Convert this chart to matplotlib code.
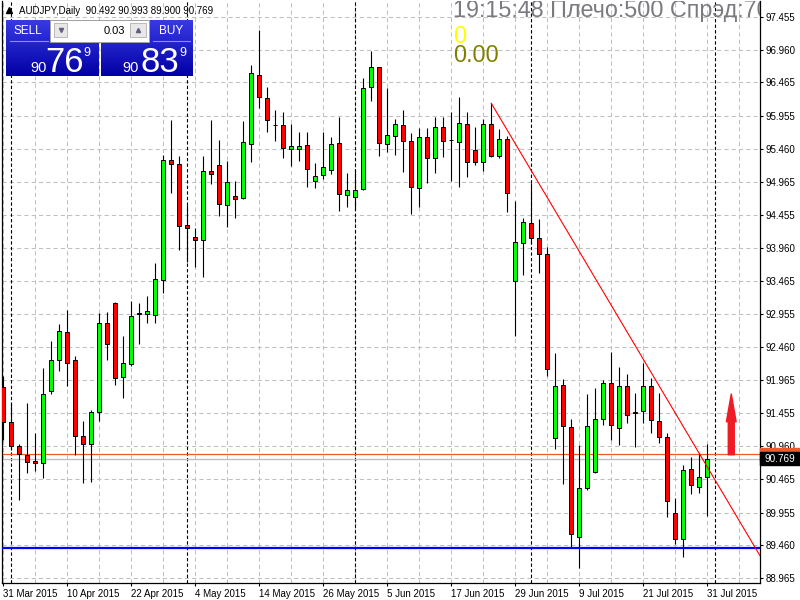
import matplotlib
matplotlib.use('Agg')
import matplotlib.pyplot as plt
import numpy as np
from matplotlib.patches import Rectangle
import matplotlib.transforms as mtransforms

plt.rcParams['font.family'] = ['Liberation Sans', 'DejaVu Sans']

# данные свечей AUDJPY D1 (31 Mar 2015 .. 31 Jul 2015)
opens = [91.855, 91.326, 90.958, 90.822, 90.731, 90.701, 91.790, 92.260, 92.683, 92.260,
         91.119, 90.988, 91.482, 92.824, 93.122, 92.002, 92.204, 92.975, 92.956, 92.941,
         93.475, 95.291, 95.226, 94.303, 94.121, 94.076, 95.120, 95.210, 94.605, 94.746,
         94.711, 95.533, 96.577, 96.224, 95.827, 95.816, 95.453, 95.453, 95.513, 94.973,
         95.059, 95.135, 95.544, 94.757, 94.726, 94.847, 96.391, 96.694, 95.528, 95.649,
         95.816, 95.574, 94.862, 95.643, 95.316, 95.786, 95.600, 95.559, 95.831, 95.438,
         95.265, 95.831, 95.356, 95.604, 93.455, 94.030, 94.333, 94.106, 93.864, 91.079,
         91.881, 91.246, 89.581, 90.323, 90.565, 91.367, 91.912, 91.231, 91.866, 91.478,
         91.488, 91.866, 91.337, 91.095, 89.944, 89.551, 90.610, 90.338, 90.492]
highs = [92.022, 91.614, 90.993, 91.609, 91.155, 92.139, 92.552, 92.809, 93.021, 92.325,
         91.341, 91.507, 92.971, 92.991, 93.142, 92.632, 93.157, 93.122, 93.233, 93.728,
         95.366, 95.896, 95.351, 94.610, 94.257, 95.351, 95.896, 95.593, 95.276, 94.973,
         95.885, 96.728, 97.258, 96.391, 96.048, 96.017, 95.831, 95.710, 95.710, 95.241,
         95.710, 95.634, 95.937, 95.090, 95.140, 96.527, 96.940, 96.694, 96.376, 95.911,
         96.048, 95.695, 95.770, 95.770, 95.937, 95.946, 96.022, 96.249, 96.022, 95.786,
         95.907, 96.149, 95.755, 95.650, 94.675, 94.409, 94.947, 94.393, 93.970, 92.366,
         91.972, 91.367, 90.973, 91.745, 91.836, 91.962, 92.381, 92.163, 92.048, 91.760,
         92.214, 91.987, 91.760, 91.155, 90.171, 90.671, 90.792, 90.852, 90.993]
lows = [91.054, 90.902, 90.145, 90.559, 90.589, 90.483, 91.754, 92.102, 91.875, 90.826,
        90.407, 90.422, 91.346, 92.264, 91.890, 91.694, 92.178, 92.502, 92.819, 92.820,
        93.274, 94.796, 93.929, 93.743, 93.676, 93.525, 94.923, 94.448, 94.272, 94.409,
        94.696, 95.256, 96.073, 95.710, 95.583, 95.326, 95.204, 95.280, 94.887, 94.872,
        95.008, 95.074, 94.524, 94.575, 94.560, 94.837, 96.188, 95.351, 95.416, 95.366,
        95.114, 94.469, 94.584, 94.947, 95.089, 95.341, 94.977, 94.887, 95.029, 95.215,
        95.124, 95.341, 95.316, 94.509, 92.632, 93.555, 94.015, 93.585, 92.022, 90.913,
        90.383, 89.415, 89.112, 90.293, 90.550, 91.276, 91.054, 90.973, 91.316, 90.943,
        91.306, 91.155, 91.004, 89.884, 89.484, 89.288, 90.241, 90.256, 89.900]
closes = [91.326, 90.963, 90.846, 90.725, 90.701, 91.745, 92.260, 92.699, 92.214, 91.119,
          90.988, 91.473, 92.824, 92.502, 91.987, 92.214, 92.925, 92.960, 93.006, 93.490,
          95.291, 95.226, 94.297, 94.257, 94.076, 95.120, 95.084, 94.625, 94.954, 94.696,
          95.559, 96.603, 96.240, 95.891, 95.817, 95.468, 95.498, 95.498, 95.150, 95.049,
          95.180, 95.528, 94.772, 94.832, 94.832, 96.376, 96.694, 95.553, 95.674, 95.831,
          95.574, 94.878, 95.643, 95.316, 95.786, 95.574, 95.590, 95.846, 95.265, 95.265,
          95.831, 95.356, 95.604, 94.787, 94.045, 94.348, 94.106, 93.864, 92.123, 91.866,
          91.261, 89.627, 90.323, 91.261, 91.367, 91.912, 91.276, 91.866, 91.427, 91.468,
          91.866, 91.352, 91.095, 90.126, 89.551, 90.595, 90.368, 90.489, 90.769]

date_labels = ['31 Mar 2015', '10 Apr 2015', '22 Apr 2015', '4 May 2015', '14 May 2015',
               '26 May 2015', '5 Jun 2015', '17 Jun 2015', '29 Jun 2015', '9 Jul 2015',
               '21 Jul 2015', '31 Jul 2015']
date_idx = [0, 8, 16, 24, 32, 40, 48, 56, 64, 72, 80, 88]
month_starts = [1, 23, 44, 66, 89]
price_ticks = [97.455, 96.960, 96.465, 95.955, 95.460, 94.965, 94.455, 93.960, 93.465,
               92.955, 92.460, 91.965, 91.455, 90.960, 90.465, 89.955, 89.460, 88.965]

bid = 90.769
ask = 90.839
support = 89.42
trend_x = [61, 94.6]
trend_y = [96.149, 89.30]
arrow_x = 91
arrow_base = 90.83
arrow_tip = 91.75

W, H = 800, 600
fig = plt.figure(figsize=(8, 6), dpi=100)
ax = fig.add_axes([2 / W, 17 / H, 758 / W, 582 / H])
ax.set_xlim(-0.1625, 94.59)
ax.set_ylim(88.889, 97.697)

x = np.arange(len(opens))
o = np.array(opens); c = np.array(closes)

# сетка
for gx in range(0, 95, 4):
    ax.axvline(gx, color='#c0c0c0', lw=0.75, dashes=(4, 3), zorder=0)
for gy in price_ticks:
    ax.axhline(gy, color='#c0c0c0', lw=0.75, dashes=(4, 3), zorder=0)
for m in month_starts:
    ax.axvline(m, color='black', lw=0.8, dashes=(3, 2), zorder=1)

ax.axhline(bid, color='#c0c0c0', lw=1, zorder=1)
ax.axhline(ask, color='#f05a28', lw=0.9, zorder=1)
ax.axhline(support, color='#0000ff', lw=1.6, zorder=4)

# свечи
ax.vlines(x, lows, highs, color='black', lw=0.8, zorder=2)
up = c >= o
body = np.maximum(np.abs(c - o), 0.01)
ax.bar(x, body, bottom=np.minimum(o, c), width=0.52,
       color=np.where(up, '#00ff00', '#ff0000'), edgecolor='black', linewidth=0.7, zorder=3)

ax.plot(trend_x, trend_y, color='#ff0000', lw=0.8, zorder=4)
ax.annotate('', xy=(arrow_x, arrow_tip), xytext=(arrow_x, arrow_base),
            arrowprops=dict(arrowstyle='simple,head_length=20,head_width=7,tail_width=4.3',
                            mutation_scale=1, color='#ee1c25', shrinkA=0, shrinkB=0), zorder=5)

# оси
ax.spines['top'].set_visible(False)
for s in ['left', 'right', 'bottom']:
    ax.spines[s].set_linewidth(0.9)
ax.yaxis.tick_right()
ax.set_yticks(price_ticks)
ax.set_yticklabels([f'{p:.3f}' for p in price_ticks])
ax.set_xticks(date_idx)
ax.set_xticklabels(date_labels, ha='left')
ax.tick_params(axis='both', direction='out', length=2.5, width=0.8, labelsize=7, pad=1.5)

# метки цены справа
tr = mtransforms.blended_transform_factory(ax.transAxes, ax.transData)
ax.add_patch(Rectangle((1.0, ask - 0.1), 0.055, 0.2, transform=tr, color='#f05a28',
                       clip_on=False, zorder=6))
ax.add_patch(Rectangle((1.0, bid - 0.1), 0.055, 0.2, transform=tr, color='black',
                       clip_on=False, zorder=7))
ax.text(1.006, bid, f'{bid:.3f}', transform=tr, color='white', fontsize=7.2,
        va='center', ha='left', zorder=8, clip_on=False)

# элементы терминала
ui = fig.add_axes([0, 0, 1, 1], zorder=10)
ui.set_xlim(0, W); ui.set_ylim(H, 0); ui.axis('off')
ui.patch.set_alpha(0)

ui.plot(9, 10, marker='^', color='black', ms=4)
ui.text(19, 10.5, 'AUDJPY,Daily  90.492 90.993 89.900 90.769', fontsize=7, va='center', ha='left')

grad = np.linspace(0, 1, 64)[:, None]
cmap = matplotlib.colors.LinearSegmentedColormap.from_list('b', ['#3a3ae4', '#0000a4'])
for (x0, x1, y0, y1) in [(6, 50, 20, 42), (6, 99, 42, 76), (150, 193, 20, 42), (101, 193, 42, 76)]:
    g = grad[int((y0 - 20) / 56 * 63):int((y1 - 20) / 56 * 63) + 1]
    ui.imshow(g, extent=(x0, x1, y1, y0), cmap=cmap, vmin=0, vmax=1, aspect='auto', zorder=1)
ui.set_xlim(0, W); ui.set_ylim(H, 0)

ui.plot([10, 48], [41, 41], color='#8c8cff', lw=0.8, zorder=2)
ui.plot([153, 190], [41, 41], color='#8c8cff', lw=0.8, zorder=2)
ui.text(28, 31, 'SELL', color='white', fontsize=8.5, ha='center', va='center', zorder=3)
ui.text(171, 31, 'BUY', color='white', fontsize=8.5, ha='center', va='center', zorder=3)

ui.add_patch(Rectangle((50, 20), 99, 21.5, facecolor='white', edgecolor='#a0a0a0', lw=0.7, zorder=2))
ui.add_patch(Rectangle((54, 23), 13, 14, facecolor='#e8e8e8', edgecolor='#b0b0b0', lw=0.6, zorder=3))
ui.add_patch(Rectangle((130, 23), 16, 14, facecolor='#e8e8e8', edgecolor='#b0b0b0', lw=0.6, zorder=3))
ui.plot(60.5, 30, marker='v', color='#606080', ms=3, zorder=4)
ui.plot(138, 30, marker='^', color='#606080', ms=3, zorder=4)
ui.text(125, 30.5, '0.03', fontsize=8, ha='right', va='center', zorder=4)

ui.text(30, 72, '90', color='white', fontsize=10.5, ha='left', va='baseline', zorder=3)
ui.text(45, 72, '76', color='white', fontsize=25, ha='left', va='baseline', zorder=3)
ui.text(83, 56, '9', color='white', fontsize=9, ha='left', va='baseline', zorder=3)
ui.text(122, 72, '90', color='white', fontsize=10.5, ha='left', va='baseline', zorder=3)
ui.text(140, 72, '83', color='white', fontsize=25, ha='left', va='baseline', zorder=3)
ui.text(179, 56, '9', color='white', fontsize=9, ha='left', va='baseline', zorder=3)

t = ui.text(453, 17.5, '19:15:48 Плечо:500 Спрэд:70', color='#7a7a80', fontsize=16.8,
            ha='left', va='baseline', zorder=3)
t.set_clip_box(ax.bbox); t.set_clip_on(True)
ui.text(453, 43, '0', color='#ffff00', fontsize=16.8, ha='left', va='baseline', zorder=3)
ui.text(453, 62.5, '0.00', color='#808000', fontsize=16.8, ha='left', va='baseline', zorder=3)

fig.savefig('out.png', dpi=100)
